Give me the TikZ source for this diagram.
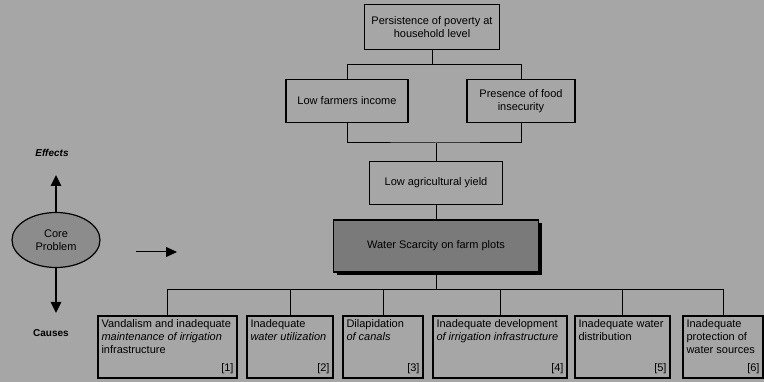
\documentclass[tikz,border=0pt]{standalone}
\usepackage{fontspec}
\setmainfont{Liberation Sans}
\usepackage{tikz}
\usetikzlibrary{arrows.meta,shadows,shapes.geometric}
\newcommand{\causetext}[3]{\parbox[c][54pt][t]{#1pt}{\raggedright #2\par\vfill\hfill #3}}

\begin{document}
\begin{tikzpicture}[x=1pt, y=-1pt,
		box/.style={draw, line width=1.2pt, align=center, inner sep=3pt, font=\fontsize{11}{13}\selectfont},
		cause/.style={box, minimum height=62pt, inner sep=3pt},
		link/.style={line width=1pt},
		bigarrow/.style={line width=2.6pt, -{Triangle[width=10pt,length=11pt]}}]
			\useasboundingbox (0,0) rectangle (764,382);
			\fill[black!35] (0,0) rectangle (764,382);
			% effects
			\node[box, minimum width=135pt, minimum height=45pt] (poverty) at (432,27) {Persistence of poverty at\\household level};
			\node[box, minimum width=122pt, minimum height=43pt] (income) at (347,101) {Low farmers income};
			\node[box, minimum width=108pt, minimum height=43pt] (food) at (521,101) {Presence of food\\insecurity};
			\node[box, minimum width=133pt, minimum height=43pt] (yield) at (436,183) {Low agricultural yield};
			\node[box, fill=black!52, minimum width=205pt, minimum height=52pt,
				drop shadow={shadow xshift=3pt, shadow yshift=-3pt, fill=black, opacity=1}] (water) at (436,246) {Water Scarcity on farm plots};
			\coordinate (j1) at (432,65);
			\coordinate (j2) at (436,143);
			\coordinate (j3) at (436,290);
			\draw[link] (poverty) -- (j1);
			\draw[link] (j1) -| (income);
			\draw[link] (j1) -| (food);
			\draw[link] (income) |- (j2) -| (food);
			\draw[link] (j2) -- (yield);
			\draw[link] (yield) -- (water);
			\draw[link] (water) -- (j3);
			% causes
			\node[cause, minimum width=139pt] (c1) at (167.5,347) {\causetext{132}{Vandalism and inadequate\\\textit{maintenance of irrigation}\\infrastructure}{[1]}};
			\node[cause, minimum width=86pt] (c2) at (290,347) {\causetext{79}{Inadequate\\\textit{water utilization}}{[2]}};
			\node[cause, minimum width=80pt] (c3) at (383,347) {\causetext{73}{Dilapidation\\\textit{of canals}}{[3]}};
			\node[cause, minimum width=134pt] (c4) at (500,347) {\causetext{127}{Inadequate development\\\textit{of irrigation infrastructure}}{[4]}};
			\node[cause, minimum width=95pt] (c5) at (622.5,347) {\causetext{88}{Inadequate water\\distribution}{[5]}};
			\node[cause, minimum width=80pt] (c6) at (723,347) {\causetext{73}{Inadequate\\protection of\\water sources}{[6]}};
			\foreach \c in {c1,c2,c3,c4,c5,c6}
				\draw[link] (j3) -| (\c);
			% legend
			\node[ellipse, draw, line width=1.2pt, fill=black!45, minimum width=88pt, minimum height=55pt, align=center,
				font=\fontsize{11}{12.5}\selectfont] (core) at (56,240) {Core\\Problem};
			\node[font=\bfseries\itshape\fontsize{10}{11}\selectfont] (effects) at (52,153) {Effects};
			\node[font=\bfseries\fontsize{10}{11}\selectfont] (causes) at (51,333) {Causes};
			\draw[bigarrow] (core) -- (56,175);
			\draw[bigarrow] (core) -- (56,313);
			\coordinate (from) at (136,252);
			\coordinate (to) at (177,252);
			\draw[line width=1pt, -{Triangle[width=10pt,length=11pt]}] (from) -- (to);
		\end{tikzpicture}
\end{document}
